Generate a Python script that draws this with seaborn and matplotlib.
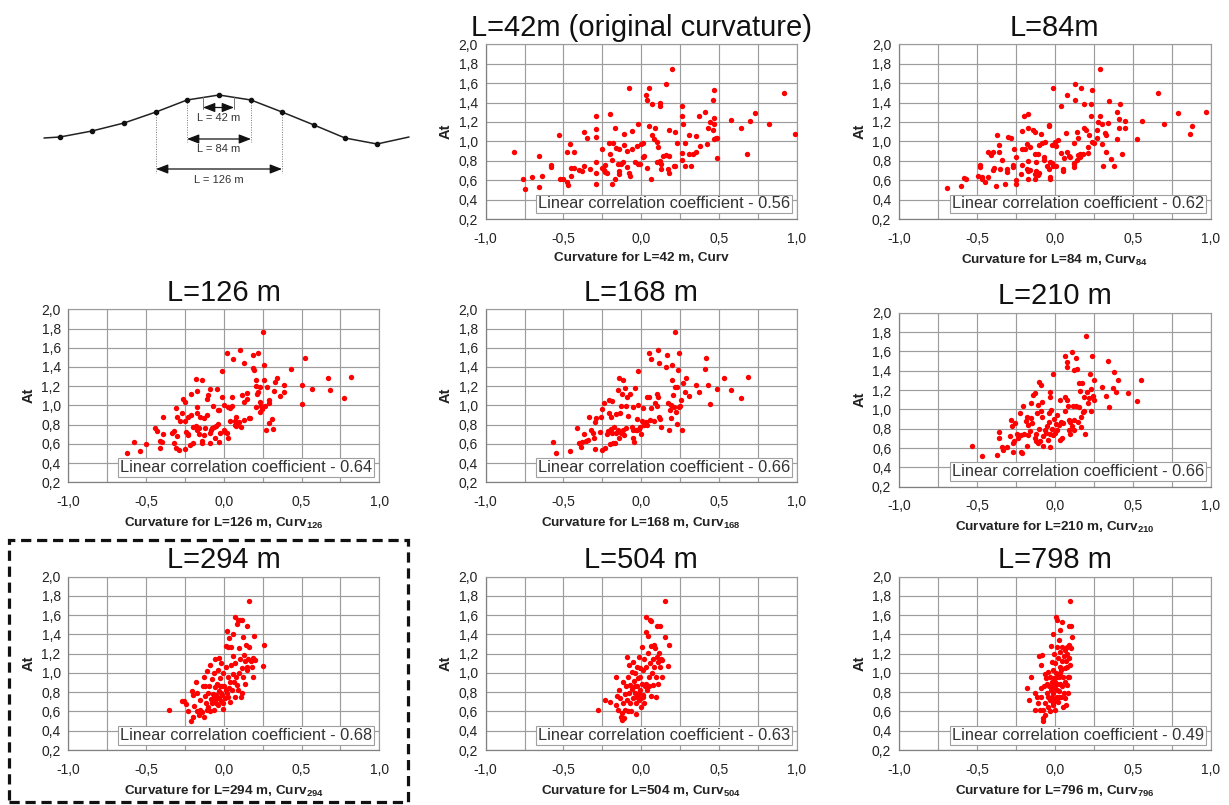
import numpy as np
import pandas as pd
import matplotlib
matplotlib.use("Agg")
import matplotlib.pyplot as plt
import seaborn as sns
from matplotlib.ticker import MultipleLocator, FuncFormatter
from matplotlib.patches import Rectangle

# ---------------- data ----------------
titles = ["L=42m (original curvature)", "L=84m", "L=126 m", "L=168 m", "L=210 m",
          "L=294 m", "L=504 m", "L=798 m"]
xlabels = ["Curvature for L=42 m, Curv",
           r"Curvature for L=84 m, Curv$_{\mathregular{84}}$",
           r"Curvature for L=126 m, Curv$_{\mathregular{126}}$",
           r"Curvature for L=168 m, Curv$_{\mathregular{168}}$",
           r"Curvature for L=210 m, Curv$_{\mathregular{210}}$",
           r"Curvature for L=294 m, Curv$_{\mathregular{294}}$",
           r"Curvature for L=504 m, Curv$_{\mathregular{504}}$",
           r"Curvature for L=796 m, Curv$_{\mathregular{796}}$"]
coefs = ["0.56", "0.62", "0.64", "0.66", "0.66", "0.68", "0.63", "0.49"]

pts42 = [(-0.82,0.89),(-0.76,0.61),(-0.75,0.51),(-0.70,0.63),(-0.66,0.85),(-0.66,0.53),(-0.64,0.64),(-0.58,0.76),(-0.58,0.74),(-0.53,1.07),(-0.52,0.61),(-0.50,0.61),(-0.48,0.89),(-0.48,0.58),(-0.47,0.55),(-0.46,0.97),(-0.45,0.64),(-0.45,0.73),(-0.43,0.73),(-0.43,0.89),(-0.40,0.71),(-0.38,0.69),(-0.37,0.75),(-0.37,1.10),(-0.35,1.03),(-0.33,0.72),(-0.29,0.79),(-0.29,1.26),(-0.29,1.13),(-0.29,1.05),(-0.29,0.67),(-0.29,0.56),(-0.25,0.92),(-0.25,0.73),(-0.24,0.70),(-0.23,0.76),(-0.23,0.68),(-0.22,0.67),(-0.21,0.98),(-0.20,0.87),(-0.20,1.28),(-0.19,0.56),(-0.19,0.81),(-0.18,0.98),(-0.17,1.14),(-0.17,0.61),(-0.16,0.93),(-0.15,0.77),(-0.14,0.92),(-0.14,0.66),(-0.14,0.69),(-0.13,0.77),(-0.12,0.79),(-0.11,0.96),(-0.11,1.08),(-0.09,0.74),(-0.09,0.90),(-0.08,1.55),(-0.08,0.67),(-0.07,0.64),(-0.06,0.92),(-0.06,1.11),(-0.04,0.79),(-0.03,0.95),(-0.02,0.77),(-0.02,1.18),(-0.01,0.77),(0.00,0.97),(0.01,0.98),(0.01,0.84),(0.02,0.85),(0.03,1.48),(0.04,1.43),(0.04,0.73),(0.05,1.16),(0.06,0.61),(0.05,1.55),(0.07,1.38),(0.07,1.07),(0.08,1.02),(0.09,1.14),(0.10,0.99),(0.10,0.79),(0.11,0.94),(0.12,1.40),(0.12,1.36),(0.12,0.80),(0.13,0.72),(0.13,0.77),(0.14,0.85),(0.16,1.59),(0.16,0.86),(0.17,0.72),(0.18,0.67),(0.18,0.85),(0.18,1.12),(0.20,1.75),(0.21,0.75),(0.22,0.75),(0.22,1.10),(0.23,0.98),(0.26,0.81),(0.26,1.36),(0.26,1.26),(0.26,0.88),(0.27,1.18),(0.28,0.98),(0.28,0.75),(0.31,1.07),(0.31,0.87),(0.32,0.75),(0.33,0.87),(0.35,0.89),(0.35,1.06),(0.37,1.26),(0.38,0.95),(0.41,1.30),(0.43,1.14),(0.42,0.97),(0.44,1.20),(0.46,1.43),(0.46,1.12),(0.47,1.02),(0.47,1.24),(0.47,1.18),(0.47,1.53),(0.48,1.03),(0.49,1.03),(0.49,0.83),(0.58,1.22),(0.64,1.14),(0.68,0.87),(0.70,1.21),(0.73,1.29),(0.82,1.18),(0.92,1.50),(0.99,1.08)]

pts84 = [(-0.69,0.52),(-0.60,0.54),(-0.58,0.62),(-0.57,0.61),(-0.49,0.64),(-0.48,0.76),(-0.48,0.74),(-0.47,0.63),(-0.47,0.61),(-0.45,0.58),(-0.43,0.89),(-0.43,0.63),(-0.41,0.86),(-0.40,0.89),(-0.40,0.71),(-0.39,0.73),(-0.38,0.54),(-0.37,1.07),(-0.36,0.96),(-0.36,0.89),(-0.35,0.72),(-0.34,0.81),(-0.32,0.56),(-0.31,0.72),(-0.31,0.68),(-0.30,1.04),(-0.28,1.03),(-0.27,0.76),(-0.27,0.74),(-0.26,0.92),(-0.25,0.84),(-0.25,0.60),(-0.25,0.56),(-0.22,0.66),(-0.21,1.11),(-0.21,0.92),(-0.21,0.76),(-0.20,1.26),(-0.19,0.92),(-0.18,0.97),(-0.18,0.72),(-0.17,0.69),(-0.17,1.28),(-0.17,0.61),(-0.17,0.80),(-0.17,1.14),(-0.16,0.94),(-0.16,0.70),(-0.14,1.12),(-0.13,1.10),(-0.13,0.87),(-0.13,0.66),(-0.13,0.61),(-0.12,0.79),(-0.12,0.69),(-0.11,0.87),(-0.11,0.65),(-0.10,0.96),(-0.10,0.67),(-0.09,1.08),(-0.08,0.98),(-0.07,0.81),(-0.07,0.84),(-0.06,0.99),(-0.05,0.75),(-0.04,1.17),(-0.04,1.16),(-0.04,0.72),(-0.03,0.63),(-0.03,0.61),(-0.03,0.79),(-0.02,0.96),(-0.02,0.78),(-0.01,1.55),(-0.01,0.75),(0.00,0.99),(0.01,0.95),(0.01,0.75),(0.02,1.01),(0.04,1.36),(0.04,0.88),(0.05,0.72),(0.05,0.69),(0.06,0.83),(0.07,1.09),(0.08,1.48),(0.08,0.89),(0.09,0.85),(0.10,0.84),(0.12,0.77),(0.12,0.98),(0.12,0.78),(0.12,0.74),(0.13,1.59),(0.13,1.43),(0.14,0.81),(0.14,1.10),(0.15,1.03),(0.15,0.86),(0.16,0.84),(0.16,0.87),(0.17,1.55),(0.18,0.87),(0.19,1.14),(0.19,1.39),(0.20,1.12),(0.21,0.94),(0.21,0.88),(0.22,1.07),(0.23,1.38),(0.23,1.26),(0.24,1.53),(0.24,0.99),(0.25,0.98),(0.27,1.03),(0.27,1.12),(0.28,1.20),(0.29,1.75),(0.29,1.26),(0.30,1.18),(0.30,0.97),(0.31,0.75),(0.32,1.09),(0.33,0.89),(0.33,1.07),(0.34,1.19),(0.35,1.42),(0.36,0.82),(0.38,0.75),(0.40,1.30),(0.40,1.02),(0.41,1.23),(0.41,1.14),(0.42,1.39),(0.43,0.87),(0.45,1.14),(0.45,1.21),(0.53,1.02),(0.56,1.21),(0.66,1.50),(0.70,1.18),(0.79,1.29),(0.87,1.08),(0.88,1.16),(0.97,1.30)]

pts126 = [(-0.62,0.51),(-0.58,0.62),(-0.54,0.53),(-0.50,0.60),(-0.44,0.76),(-0.43,0.73),(-0.41,0.56),(-0.41,0.63),(-0.40,0.62),(-0.39,0.88),(-0.39,0.70),(-0.33,0.71),(-0.32,0.73),(-0.32,0.61),(-0.31,0.97),(-0.30,0.88),(-0.31,0.56),(-0.30,0.68),(-0.29,0.54),(-0.28,0.84),(-0.27,0.92),(-0.26,1.07),(-0.25,1.04),(-0.25,0.55),(-0.25,0.84),(-0.24,0.72),(-0.23,0.69),(-0.23,0.88),(-0.23,0.70),(-0.22,0.59),(-0.21,0.90),(-0.21,1.12),(-0.20,0.61),(-0.20,0.78),(-0.18,1.28),(-0.18,0.79),(-0.17,0.74),(-0.17,0.92),(-0.17,1.15),(-0.17,0.98),(-0.16,0.70),(-0.16,0.76),(-0.15,0.88),(-0.14,0.63),(-0.14,0.61),(-0.14,1.26),(-0.13,0.87),(-0.13,0.69),(-0.12,0.76),(-0.11,1.07),(-0.105,0.90),(-0.10,1.11),(-0.09,0.61),(-0.09,0.71),(-0.09,1.17),(-0.08,0.74),(-0.075,0.76),(-0.07,0.99),(-0.06,0.78),(-0.055,0.66),(-0.05,0.79),(-0.045,1.17),(-0.04,0.95),(-0.04,0.81),(-0.03,0.62),(-0.03,0.95),(-0.025,0.71),(-0.01,1.36),(-0.01,1.09),(0.00,1.00),(0.00,0.74),(0.01,0.72),(0.02,0.71),(0.02,1.55),(0.03,0.98),(0.03,0.66),(0.04,0.84),(0.04,0.97),(0.05,1.09),(0.05,0.99),(0.06,1.48),(0.07,0.80),(0.07,0.84),(0.08,0.88),(0.08,0.79),(0.09,0.82),(0.10,0.83),(0.105,1.58),(0.11,0.78),(0.12,1.105),(0.13,0.85),(0.13,1.04),(0.13,1.44),(0.15,1.07),(0.15,1.13),(0.16,0.87),(0.17,0.87),(0.19,1.52),(0.19,1.39),(0.195,1.37),(0.21,1.265),(0.21,1.20),(0.21,0.98),(0.215,1.115),(0.22,1.14),(0.22,1.55),(0.23,1.04),(0.23,0.935),(0.235,1.19),(0.24,0.99),(0.245,0.96),(0.255,1.76),(0.26,1.42),(0.26,1.265),(0.265,0.99),(0.27,0.74),(0.28,1.19),(0.29,1.06),(0.29,1.03),(0.29,0.82),(0.31,0.86),(0.315,0.75),(0.32,1.15),(0.33,1.24),(0.34,1.29),(0.36,1.10),(0.39,1.21),(0.39,1.14),(0.43,1.38),(0.50,1.015),(0.50,1.21),(0.52,1.49),(0.57,1.17),(0.67,1.29),(0.68,1.16),(0.77,1.08),(0.82,1.30)]

pts168 = [(-0.57,0.62),(-0.545,0.505),(-0.46,0.53),(-0.41,0.76),(-0.40,0.61),(-0.39,0.57),(-0.38,0.62),(-0.37,0.70),(-0.355,0.63),(-0.345,0.64),(-0.335,0.88),(-0.32,0.74),(-0.31,0.71),(-0.305,0.66),(-0.30,0.55),(-0.30,0.83),(-0.29,0.87),(-0.265,0.72),(-0.26,0.88),(-0.255,0.96),(-0.25,0.54),(-0.24,1.02),(-0.23,0.56),(-0.22,0.70),(-0.215,0.73),(-0.21,0.92),(-0.205,1.06),(-0.20,0.60),(-0.195,0.88),(-0.195,0.75),(-0.19,1.05),(-0.185,0.71),(-0.18,0.61),(-0.175,0.78),(-0.17,0.61),(-0.165,0.91),(-0.16,0.71),(-0.15,1.16),(-0.15,0.74),(-0.14,1.29),(-0.14,0.66),(-0.135,0.92),(-0.13,0.71),(-0.13,0.99),(-0.125,1.12),(-0.12,0.74),(-0.115,1.265),(-0.11,0.69),(-0.105,1.18),(-0.10,0.76),(-0.095,0.99),(-0.09,1.09),(-0.085,0.89),(-0.07,1.12),(-0.06,0.78),(-0.055,0.74),(-0.05,0.98),(-0.05,0.66),(-0.045,0.62),(-0.04,1.18),(-0.035,0.74),(-0.03,0.86),(-0.025,0.74),(-0.02,1.36),(-0.02,1.00),(-0.015,0.75),(-0.01,0.78),(0.00,0.70),(0.005,0.84),(0.01,0.97),(0.02,0.80),(0.03,0.83),(0.035,1.09),(0.04,0.80),(0.047,1.55),(0.05,1.09),(0.055,0.85),(0.06,1.48),(0.065,0.97),(0.08,0.84),(0.09,1.03),(0.10,0.99),(0.10,1.12),(0.11,1.09),(0.11,1.58),(0.115,0.88),(0.115,1.44),(0.12,0.86),(0.125,0.78),(0.16,1.40),(0.165,1.52),(0.175,1.03),(0.18,0.74),(0.185,0.95),(0.19,1.00),(0.19,0.87),(0.20,1.42),(0.20,1.265),(0.205,1.11),(0.21,0.98),(0.215,1.195),(0.22,1.76),(0.225,0.935),(0.23,0.81),(0.23,1.195),(0.235,1.37),(0.24,0.98),(0.245,1.55),(0.25,0.99),(0.255,1.06),(0.265,0.745),(0.27,1.23),(0.28,1.14),(0.285,1.29),(0.31,1.10),(0.35,1.21),(0.37,1.14),(0.41,1.38),(0.415,1.49),(0.43,1.21),(0.44,1.01),(0.485,1.17),(0.53,1.29),(0.575,1.16),(0.645,1.08),(0.69,1.30)]

pts210 = [(-0.53,0.62),(-0.47,0.52),(-0.37,0.53),(-0.36,0.77),(-0.36,0.70),(-0.34,0.61),(-0.33,0.58),(-0.31,0.61),(-0.29,0.72),(-0.28,0.89),(-0.275,0.83),(-0.27,0.65),(-0.27,0.56),(-0.265,0.67),(-0.255,0.86),(-0.245,0.75),(-0.235,0.70),(-0.225,0.965),(-0.22,0.73),(-0.215,0.56),(-0.21,0.545),(-0.205,1.03),(-0.195,0.75),(-0.185,0.88),(-0.18,0.62),(-0.18,0.92),(-0.175,0.73),(-0.17,0.84),(-0.16,0.775),(-0.155,0.91),(-0.15,1.07),(-0.145,0.855),(-0.137,1.15),(-0.13,0.70),(-0.125,1.17),(-0.12,0.67),(-0.12,0.75),(-0.115,0.96),(-0.11,1.05),(-0.105,0.65),(-0.10,1.28),(-0.10,0.80),(-0.095,0.675),(-0.09,0.98),(-0.09,1.25),(-0.085,1.08),(-0.08,0.92),(-0.077,0.62),(-0.073,0.72),(-0.066,0.785),(-0.058,0.76),(-0.05,0.83),(-0.045,0.68),(-0.04,0.87),(-0.036,0.96),(-0.034,1.175),(-0.032,0.75),(-0.03,1.125),(-0.028,0.61),(-0.024,0.99),(-0.02,0.80),(-0.015,1.365),(-0.01,0.735),(-0.005,0.905),(0.00,0.76),(0.006,0.845),(0.013,0.94),(0.017,0.79),(0.024,0.84),(0.03,1.10),(0.034,0.68),(0.04,0.865),(0.047,0.70),(0.055,0.855),(0.062,0.985),(0.066,1.55),(0.068,1.13),(0.075,1.49),(0.077,1.44),(0.079,1.10),(0.083,1.03),(0.088,0.79),(0.094,0.895),(0.098,0.75),(0.10,0.87),(0.11,1.59),(0.113,0.83),(0.115,1.035),(0.12,0.785),(0.124,1.41),(0.126,0.89),(0.133,1.53),(0.137,1.035),(0.14,1.42),(0.148,0.87),(0.154,1.02),(0.158,1.27),(0.163,1.19),(0.167,0.82),(0.17,0.92),(0.173,1.27),(0.178,0.976),(0.184,0.985),(0.19,1.13),(0.195,0.75),(0.20,1.76),(0.205,1.175),(0.21,1.07),(0.216,1.115),(0.227,1.37),(0.23,0.98),(0.235,1.21),(0.24,1.55),(0.244,1.14),(0.248,1.10),(0.252,1.30),(0.30,1.235),(0.33,1.14),(0.34,1.50),(0.346,1.02),(0.37,1.22),(0.377,1.39),(0.39,1.18),(0.406,1.30),(0.47,1.165),(0.524,1.086),(0.554,1.30)]

pts294 = [(-0.354,0.615),(-0.27,0.705),(-0.255,0.71),(-0.24,0.68),(-0.23,0.61),(-0.21,0.505),(-0.205,0.81),(-0.20,0.77),(-0.195,0.545),(-0.19,0.66),(-0.18,0.91),(-0.175,0.79),(-0.17,0.60),(-0.16,0.56),(-0.155,0.72),(-0.15,0.615),(-0.14,0.59),(-0.135,0.86),(-0.13,0.955),(-0.126,0.545),(-0.12,0.76),(-0.12,0.865),(-0.115,0.685),(-0.11,1.025),(-0.107,0.615),(-0.103,0.79),(-0.10,0.65),(-0.095,0.86),(-0.09,0.60),(-0.086,1.08),(-0.08,0.725),(-0.077,0.935),(-0.073,0.685),(-0.069,0.78),(-0.066,0.615),(-0.062,0.995),(-0.058,0.85),(-0.056,1.15),(-0.054,0.72),(-0.05,0.77),(-0.045,0.89),(-0.04,1.03),(-0.039,0.67),(-0.034,0.815),(-0.032,1.16),(-0.028,0.745),(-0.024,0.945),(-0.02,0.71),(-0.015,1.10),(-0.013,0.86),(-0.009,0.77),(-0.004,0.63),(-0.002,0.995),(0.002,0.86),(0.006,0.735),(0.011,1.28),(0.015,1.065),(0.019,1.44),(0.021,0.79),(0.026,1.27),(0.028,0.96),(0.032,1.36),(0.036,0.84),(0.039,0.91),(0.04,0.70),(0.045,1.08),(0.049,1.27),(0.051,0.825),(0.056,0.99),(0.058,1.175),(0.062,1.405),(0.064,0.91),(0.069,1.58),(0.073,0.755),(0.075,1.10),(0.08,0.96),(0.084,1.505),(0.088,0.875),(0.092,0.825),(0.094,1.555),(0.099,0.995),(0.10,1.255),(0.105,1.55),(0.107,1.14),(0.109,0.755),(0.114,1.05),(0.118,0.79),(0.12,1.555),(0.122,0.96),(0.126,1.37),(0.131,1.185),(0.135,0.89),(0.137,1.12),(0.141,1.29),(0.146,1.065),(0.148,1.49),(0.152,1.03),(0.156,1.15),(0.159,1.75),(0.165,1.27),(0.174,1.12),(0.182,1.065),(0.186,0.96),(0.19,1.16),(0.195,1.38),(0.20,1.135),(0.25,1.07),(0.26,1.29),(-0.066,0.75),(-0.05,0.685),(-0.034,0.735),(-0.02,0.79),(-0.006,0.685),(0.011,0.82),(0.03,0.755),(-0.024,0.86)]

pts504 = [(-0.277,0.615),(-0.23,0.72),(-0.20,0.70),(-0.16,0.96),(-0.16,0.67),(-0.155,0.765),(-0.148,0.615),(-0.14,0.82),(-0.137,0.735),(-0.13,0.545),(-0.126,0.51),(-0.122,0.58),(-0.12,0.91),(-0.116,0.685),(-0.111,0.53),(-0.107,0.78),(-0.103,0.615),(-0.099,0.86),(-0.094,0.72),(-0.09,1.17),(-0.088,0.60),(-0.084,0.96),(-0.08,0.79),(-0.077,1.08),(-0.073,0.685),(-0.069,0.875),(-0.064,0.60),(-0.06,1.015),(-0.058,0.83),(-0.054,0.735),(-0.051,1.115),(-0.047,0.92),(-0.043,0.79),(-0.04,1.00),(-0.036,0.685),(-0.034,0.57),(-0.03,0.86),(-0.028,1.065),(-0.024,0.755),(-0.019,0.945),(-0.015,0.72),(-0.013,1.17),(-0.009,0.825),(-0.006,1.05),(-0.002,0.65),(0.002,0.89),(0.004,1.265),(0.009,0.755),(0.013,1.03),(0.017,1.15),(0.019,0.685),(0.024,0.86),(0.028,1.43),(0.03,1.065),(0.034,1.58),(0.039,0.82),(0.043,1.205),(0.045,1.385),(0.049,0.96),(0.054,1.105),(0.056,1.555),(0.06,0.76),(0.062,1.28),(0.066,1.54),(0.071,0.995),(0.073,1.15),(0.077,0.875),(0.081,1.29),(0.084,1.065),(0.088,1.255),(0.092,0.755),(0.094,0.96),(0.099,1.17),(0.10,1.49),(0.105,0.885),(0.109,1.115),(0.114,1.21),(0.12,1.065),(0.124,1.485),(0.126,1.15),(0.131,0.96),(0.135,1.135),(0.15,1.375),(0.154,1.75),(0.178,1.29),(0.174,1.075),(-0.03,0.755),(-0.015,0.79),(-0.004,0.735),(0.013,0.77),(0.034,0.89),(0.051,0.86),(-0.039,0.86),(-0.009,0.96)]

pts798 = [(-0.18,0.84),(-0.163,0.72),(-0.152,0.96),(-0.13,0.79),(-0.126,0.615),(-0.116,0.755),(-0.109,0.685),(-0.103,1.175),(-0.098,0.615),(-0.092,1.08),(-0.088,0.84),(-0.086,0.755),(-0.081,1.185),(-0.079,0.615),(-0.075,0.53),(-0.073,0.505),(-0.068,0.86),(-0.066,0.99),(-0.062,0.685),(-0.06,0.565),(-0.056,0.945),(-0.053,0.79),(-0.049,0.89),(-0.047,0.65),(-0.043,1.015),(-0.041,0.755),(-0.036,0.86),(-0.034,0.60),(-0.03,0.96),(-0.028,0.72),(-0.026,1.28),(-0.024,0.825),(-0.021,1.115),(-0.019,0.91),(-0.015,0.665),(-0.013,1.41),(-0.011,1.035),(-0.009,0.79),(-0.006,1.20),(-0.004,0.945),(-0.002,0.72),(0.00,1.10),(0.002,0.84),(0.004,0.615),(0.006,1.585),(0.009,1.00),(0.011,0.755),(0.013,1.275),(0.015,0.885),(0.017,1.555),(0.019,1.16),(0.021,0.70),(0.024,0.96),(0.026,1.34),(0.028,0.81),(0.03,1.065),(0.032,1.445),(0.034,0.89),(0.036,1.22),(0.039,0.755),(0.041,1.03),(0.043,1.53),(0.045,1.12),(0.047,0.86),(0.049,1.275),(0.051,0.65),(0.053,0.96),(0.056,1.175),(0.058,0.79),(0.062,1.05),(0.064,1.24),(0.066,0.735),(0.068,0.91),(0.071,0.665),(0.073,1.12),(0.075,0.875),(0.077,1.20),(0.079,1.275),(0.081,1.065),(0.083,0.96),(0.086,0.79),(0.088,1.16),(0.09,1.29),(0.094,1.49),(0.096,1.75),(0.103,1.485),(0.107,1.375),(0.098,1.08),(0.103,1.255),(0.094,0.96),(-0.019,0.755),(-0.009,0.685),(0.002,0.91),(0.013,0.825),(0.017,0.96),(-0.013,0.86),(0.024,0.755),(0.034,0.995)]

panel_points = [pts42, pts84, pts126, pts168, pts210, pts294, pts504, pts798]

# schematic profile (top-left sketch), in sketch units
prof_x = [44, 60, 92, 124, 156, 187, 219, 251, 282, 314, 345, 377, 409]
prof_y = [138, 137, 131, 123, 112, 100, 95, 100, 112, 125, 138, 144, 137]
dim_labels = ["L = 42 m", "L = 84 m", "L = 126 m"]

# ---------------- style ----------------
sns.set_theme(style="white")
plt.rcParams["font.family"] = ["Liberation Sans", "DejaVu Sans"]
plt.rcParams["mathtext.fontset"] = "custom"
plt.rcParams["mathtext.rm"] = "Liberation Sans"
plt.rcParams["mathtext.bf"] = "Liberation Sans:bold"

W, H = 1229, 805
fig = plt.figure(figsize=(W / 100, H / 100), dpi=100)
fig.patch.set_facecolor("white")


def px_axes(l, t, r, b):
    return fig.add_axes([l / W, 1 - b / H, (r - l) / W, (b - t) / H])


rects = [(485.7, 44.3, 796.7, 219.0), (899.0, 44.3, 1210.7, 219.0),
         (68.3, 309.3, 379.3, 482.3), (485.7, 309.3, 796.7, 482.3), (899.0, 312.7, 1210.7, 486.7),
         (68.3, 576.7, 379.3, 750.0), (485.7, 576.7, 796.7, 750.0), (899.0, 576.7, 1210.7, 750.0)]

fmt = FuncFormatter(lambda v, p: ("%.1f" % v).replace(".", ",").replace("-0,0", "0,0"))

for i, rect in enumerate(rects):
    ax = px_axes(*rect)
    df = pd.DataFrame(panel_points[i], columns=["curv", "At"])
    sns.scatterplot(data=df, x="curv", y="At", ax=ax, color="#ff0000", s=15,
                    linewidth=0, legend=False, zorder=3)
    ax.set_xlim(-1, 1)
    ax.set_ylim(0.2, 2.0)
    ax.xaxis.set_major_locator(MultipleLocator(0.5))
    ax.xaxis.set_minor_locator(MultipleLocator(0.25))
    ax.yaxis.set_major_locator(MultipleLocator(0.2))
    ax.xaxis.set_major_formatter(fmt)
    ax.yaxis.set_major_formatter(fmt)
    ax.grid(True, which="both", color="#9c9c9c", lw=0.85)
    ax.set_axisbelow(True)
    ax.tick_params(axis="both", which="major", direction="out", length=3, width=0.8,
                   color="#808080", labelsize=10, labelcolor="#222222")
    ax.tick_params(axis="x", which="major", pad=6)
    ax.tick_params(axis="y", which="major", pad=2.5)
    ax.tick_params(which="minor", length=0)
    for side in ["left", "bottom"]:
        ax.spines[side].set_color("#808080")
        ax.spines[side].set_linewidth(0.9)
    for side in ["top", "right"]:
        ax.spines[side].set_color("#9c9c9c")
        ax.spines[side].set_linewidth(0.85)
    ax.set_xlabel(xlabels[i], fontsize=9.7, fontweight="bold", labelpad=5, color="#222222")
    ax.set_ylabel("At", fontsize=10.5, fontweight="bold", labelpad=4, color="#222222")
    ax.set_title(titles[i], fontsize=21, pad=6, color="#111111")
    ax.text(0.978, 0.043, "Linear correlation coefficient - " + coefs[i],
            transform=ax.transAxes, ha="right", va="bottom", fontsize=11.8, color="#333333",
            zorder=5,
            bbox=dict(boxstyle="square,pad=0.12", facecolor="white", edgecolor="#a0a0a0", lw=0.8))

# ---------------- schematic ----------------
sk = px_axes(0, 60, 420, 200)
sk.set_xlim(0, 420)
sk.set_ylim(200, 60)
sk.axis("off")
sk.plot(prof_x, prof_y, color="#222222", lw=1.1)
sk.scatter(prof_x[1:-1], prof_y[1:-1], s=9, color="#111111", zorder=3)
# dotted construction lines
for xi, y_top, y_bot in [(prof_x[5], prof_y[5], 142), (prof_x[7], prof_y[7], 142),
                         (prof_x[4], prof_y[4], 173), (prof_x[8], prof_y[8], 173)]:
    sk.plot([xi, xi], [y_top, y_bot], color="#777777", lw=0.7, ls=(0, (1, 1.5)))
for xi in [203, 234]:
    sk.plot([xi, xi], [97, 109], color="#777777", lw=0.7)
arrow_spans = [(203, 234, 107.5), (prof_x[5], prof_x[7], 139), (prof_x[4], prof_x[8], 169)]
label_y = [118, 149.5, 180]
for (x0, x1, yy), lab, ly in zip(arrow_spans, dim_labels, label_y):
    sk.annotate("", xy=(x1, yy), xytext=(x0, yy),
                arrowprops=dict(arrowstyle="<|-|>,head_length=0.9,head_width=0.35",
                                color="#111111", lw=0.9, shrinkA=0, shrinkB=0,
                                mutation_scale=8))
    sk.text((x0 + x1) / 2, ly, lab, ha="center", va="center", fontsize=8, color="#333333")

# ---------------- dashed frame around L=294 panel ----------------
fig.add_artist(Rectangle((9 / W, 1 - 802 / H), 399 / W, 262 / H, transform=fig.transFigure,
                         fill=False, edgecolor="#111111", lw=2.3, ls=(0, (3.2, 1.8))))

fig.savefig("out.png", dpi=100, facecolor="white")
